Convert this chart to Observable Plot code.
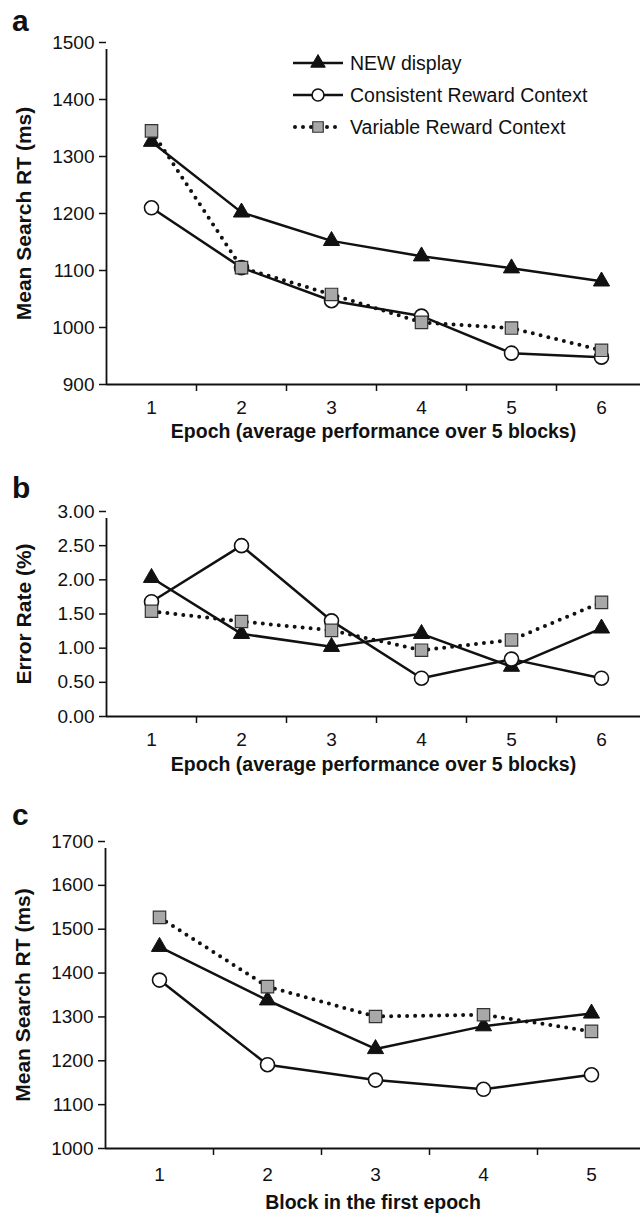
<!DOCTYPE html>
<html><head><meta charset="utf-8">
<script src="https://cdn.jsdelivr.net/npm/d3@7"></script>
<script src="https://cdn.jsdelivr.net/npm/@observablehq/plot@0.6"></script>
<style>
body{margin:0;background:#fff;}
#wrap{position:relative;width:640px;height:1216px;overflow:hidden;font-family:"Liberation Sans",Arial,sans-serif;}
#wrap > div.panel{position:absolute;left:0;}
</style></head><body><div id="wrap"></div>
<script>
// ---- data ----
const epochs = [1, 2, 3, 4, 5, 6];
const blocks = [1, 2, 3, 4, 5];
const seriesNames = ["NEW display", "Consistent Reward Context", "Variable Reward Context"];
// panel a: mean search RT per epoch (ms)
const rtNew        = [1326, 1202, 1152, 1125, 1104, 1081];
const rtConsistent = [1210, 1105, 1047, 1020, 955, 948];
const rtVariable   = [1345, 1105, 1058, 1009, 999, 960];
// panel b: error rate per epoch (%)
const errNew        = [2.03, 1.21, 1.02, 1.21, 0.73, 1.29];
const errConsistent = [1.68, 2.50, 1.40, 0.56, 0.84, 0.56];
const errVariable   = [1.54, 1.39, 1.26, 0.97, 1.12, 1.67];
// panel c: mean search RT per block in first epoch (ms)
const blkNew        = [1460, 1338, 1227, 1279, 1308];
const blkConsistent = [1384, 1191, 1156, 1135, 1168];
const blkVariable   = [1527, 1369, 1301, 1305, 1267];
// tick labels
const rtTicks  = [900, 1000, 1100, 1200, 1300, 1400, 1500];
const errTicks = [0, 0.5, 1, 1.5, 2, 2.5, 3];
const blkTicks = [1000, 1100, 1200, 1300, 1400, 1500, 1600, 1700];
const titles = {
  rt: "Mean Search RT (ms)",
  err: "Error Rate (%)",
  epoch: "Epoch (average performance over 5 blocks)",
  block: "Block in the first epoch"
};

const FONT = '"Liberation Sans", Arial, sans-serif';
const INK = "#111";
const GRAY = "#a8a8a8";
const TRI_R = 6.0, CIR_R = 7.0, SQ_R = 7.0;

function rows(cats, vals) { return cats.map((c, i) => ({x: c, y: vals[i]})); }

function panel(o) {
  const n = o.cats.length;
  const height = o.mt + o.fh + o.mb;
  const dNew = rows(o.cats, o.vNew), dCon = rows(o.cats, o.vCon), dVar = rows(o.cats, o.vVar);
  const plot = Plot.plot({
    width: 640, height,
    marginLeft: o.left, marginRight: 0, marginTop: o.mt, marginBottom: o.mb,
    style: {fontFamily: FONT, fontSize: "19px", color: INK, background: "transparent", overflow: "visible"},
    x: {domain: [0.5, n + 0.5], range: [o.left, o.left + o.band * n]},
    y: {domain: [o.ticks[0], o.ticks[o.ticks.length - 1]]},
    marks: [
      Plot.axisY({ticks: o.ticks, tickSize: 7, tickPadding: 5, tickFormat: o.fmt, label: null, strokeWidth: 1.5, fill: INK}),
      Plot.axisX({ticks: o.cats, tickSize: 0, tickPadding: o.xpad, tickFormat: d => String(d), label: null, fill: INK}),
      Plot.axisX({ticks: o.cats.map(c => c + 0.5), tickSize: 7, tickFormat: () => "", label: null, strokeWidth: 1.5}),
      Plot.ruleY([o.ticks[0]], {stroke: INK, strokeWidth: 1.8}),
      Plot.ruleX([0.5], {y1: o.ticks[0], y2: o.ticks[o.ticks.length - 1], insetBottom: -7, stroke: INK, strokeWidth: 1.8}),
      // NEW display
      Plot.line(dNew, {x: "x", y: "y", stroke: INK, strokeWidth: 2.5}),
      Plot.dot(dNew, {x: "x", y: "y", symbol: "triangle", r: TRI_R, fill: INK, stroke: INK, strokeWidth: 1}),
      // Consistent
      Plot.line(dCon, {x: "x", y: "y", stroke: INK, strokeWidth: 2.5}),
      Plot.dot(dCon, {x: "x", y: "y", symbol: "circle", r: CIR_R, fill: "#fff", stroke: INK, strokeWidth: 1.6}),
      // Variable
      Plot.line(dVar, {x: "x", y: "y", stroke: INK, strokeWidth: 4, strokeDasharray: "0,8", strokeLinecap: "round"}),
      Plot.dot(dVar, {x: "x", y: "y", symbol: "square", r: SQ_R, fill: GRAY, stroke: "#333", strokeWidth: 1.2}),
      // titles
      Plot.text([o.yTitle], {text: d => d, frameAnchor: "left", textAnchor: "middle", rotate: -90, dx: -82, fontWeight: "bold", fontSize: 21, fill: INK}),
      Plot.text([o.xTitle], {text: d => d, frameAnchor: "bottom", textAnchor: "middle", dy: o.xdy, fontWeight: "bold", fontSize: 19.5, fill: INK})
    ]
  });
  const svg = d3.select(plot);
  svg.append("text").attr("x", 12).attr("y", o.letterBase).attr("text-anchor", "start")
    .attr("font-family", FONT).attr("font-weight", "bold").attr("font-size", 30).attr("fill", INK)
    .text(o.letter);
  if (o.legend) {
    const items = [
      {name: seriesNames[0], sym: d3.symbolTriangle, r: TRI_R * 0.9, fill: INK, stroke: INK, sw: 1, dash: null, lw: 2.5},
      {name: seriesNames[1], sym: d3.symbolCircle, r: CIR_R * 0.85, fill: "#fff", stroke: INK, sw: 1.6, dash: null, lw: 2.5},
      {name: seriesNames[2], sym: d3.symbolSquare, r: SQ_R * 0.85, fill: GRAY, stroke: "#333", sw: 1.2, dash: "0,8", lw: 4}
    ];
    const g = svg.append("g");
    items.forEach((it, i) => {
      const y = 63 + i * 32;
      const ln = g.append("line").attr("x1", 293).attr("x2", 343).attr("y1", y).attr("y2", y)
        .attr("stroke", INK).attr("stroke-width", it.lw);
      if (it.dash) ln.attr("stroke-dasharray", it.dash).attr("stroke-linecap", "round").attr("x1", 295);
      g.append("path").attr("transform", `translate(318,${y})`)
        .attr("d", d3.symbol(it.sym, it.r * it.r * Math.PI)())
        .attr("fill", it.fill).attr("stroke", it.stroke).attr("stroke-width", it.sw);
      g.append("text").attr("x", 350).attr("y", y).attr("dy", "0.35em").attr("text-anchor", "start")
        .attr("font-family", FONT).attr("font-size", 19.5).attr("fill", INK).text(it.name);
    });
  }
  const div = document.createElement("div");
  div.className = "panel";
  div.style.top = o.top + "px";
  div.appendChild(plot);
  document.getElementById("wrap").appendChild(div);
}

const f0 = d => String(d);
const f2 = d => d.toFixed(2);

panel({letter: "a", top: 0, letterBase: 31, left: 106, band: 90, mt: 42, fh: 342, mb: 60, xpad: 16, xdy: 53,
  cats: epochs, vNew: rtNew, vCon: rtConsistent, vVar: rtVariable, ticks: rtTicks, fmt: f0,
  yTitle: titles.rt, xTitle: titles.epoch, legend: true});
panel({letter: "b", top: 491, letterBase: 498 - 491, left: 106, band: 90, mt: 20, fh: 205, mb: 60, xpad: 16, xdy: 54,
  cats: epochs, vNew: errNew, vCon: errConsistent, vVar: errVariable, ticks: errTicks, fmt: f2,
  yTitle: titles.err, xTitle: titles.epoch, legend: false});
panel({letter: "c", top: 821, letterBase: 825 - 821, left: 105, band: 108, mt: 20, fh: 307, mb: 68, xpad: 19, xdy: 60,
  cats: blocks, vNew: blkNew, vCon: blkConsistent, vVar: blkVariable, ticks: blkTicks, fmt: f0,
  yTitle: titles.rt, xTitle: titles.block, legend: false});
</script>
</body></html>
